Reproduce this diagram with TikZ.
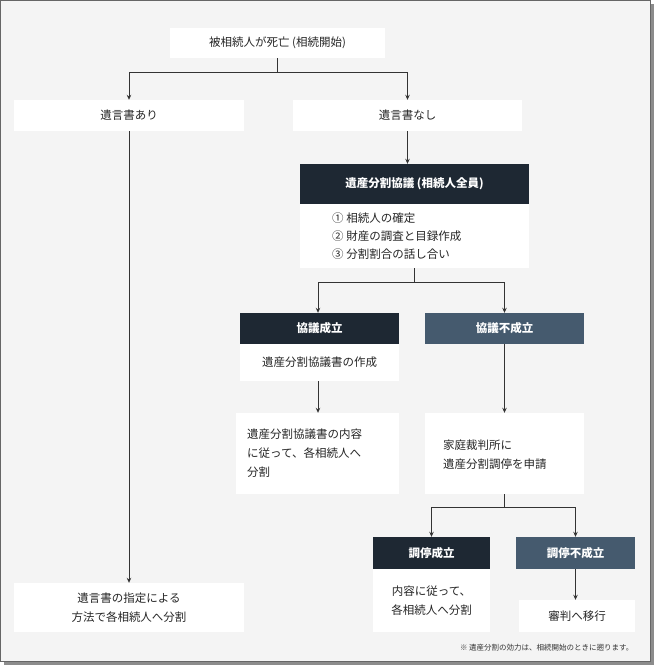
\documentclass[tikz,border=0pt]{standalone}
\usepackage{fontspec}
\setmainfont{Noto Sans CJK JP}
\usetikzlibrary{arrows.meta}
\definecolor{bg}{HTML}{F4F4F4}
\definecolor{dark}{HTML}{1E2833}
\definecolor{slate}{HTML}{455A6E}
\definecolor{ln}{HTML}{333333}
\begin{document}
\begin{tikzpicture}[x=1pt,y=-1pt,
  wbox/.style={fill=white,draw=none,inner sep=0pt,font=\fontsize{11.5}{19}\selectfont,text=black!85},
  dbox/.style={fill=dark,draw=none,text=white,font=\fontsize{11.5}{14}\selectfont\bfseries},
  sbox/.style={fill=slate,draw=none,text=white,font=\fontsize{11.5}{14}\selectfont\bfseries},
  arr/.style={draw=ln,line width=0.9pt,-{Stealth[length=5pt,width=4.5pt]}},
  ln/.style={draw=ln,line width=0.9pt}]
\useasboundingbox (0,0) rectangle (654,665);
\fill[black!45] (4,4) rectangle (654,665);
\fill[bg,draw=black!60,line width=0.8pt] (0.5,0.5) rectangle (650,661);
% boxes
\node[wbox,minimum width=215,minimum height=30] (top) at (277.5,43) {被相続人が死亡 (相続開始)};
\node[wbox,minimum width=230,minimum height=31] (yes) at (129,115.5) {遺言書あり};
\node[wbox,minimum width=229,minimum height=31] (no) at (407.5,115.5) {遺言書なし};
\node[dbox,minimum width=229,minimum height=40] (kyo) at (414.5,184) {遺産分割協議 (相続人全員)};
\node[wbox,minimum width=229,minimum height=64] (kyob) at (414.5,236) {};
\node[wbox,anchor=west,align=left,font=\fontsize{11.5}{18}\selectfont] (kyot) at (332,236) {① 相続人の確定\\② 財産の調査と目録作成\\③ 分割割合の話し合い};
\node[dbox,minimum width=159,minimum height=31] (s1) at (319.5,328.5) {協議成立};
\node[wbox,minimum width=159,minimum height=37] (s1b) at (319.5,362.5) {遺産分割協議書の作成};
\node[wbox,minimum width=163,minimum height=81] (s2) at (317.5,453.5) {};
\node[wbox,anchor=west,align=left] (s2t) at (247,453.5) {遺産分割協議書の内容\\に従って、各相続人へ\\分割};
\node[sbox,minimum width=159,minimum height=31] (f1) at (504.5,328.5) {協議不成立};
\node[wbox,minimum width=159,minimum height=81] (f2) at (504.5,453.5) {};
\node[wbox,anchor=west,align=left] (f2t) at (443,455) {家庭裁判所に\\遺産分割調停を申請};
\node[dbox,minimum width=117,minimum height=32] (c1) at (431.5,553) {調停成立};
\node[wbox,minimum width=117,minimum height=63,align=center] (c1b) at (431.5,600.5) {内容に従って、\\各相続人へ分割};
\node[sbox,minimum width=119,minimum height=32] (c2) at (575.5,553) {調停不成立};
\node[wbox,minimum width=116,minimum height=32] (c3) at (577,616) {審判へ移行};
\node[wbox,minimum width=230,minimum height=49,align=center] (w) at (129,607.5) {遺言書の指定による\\方法で各相続人へ分割};
\node[anchor=east,font=\fontsize{7.5}{9}\selectfont,text=black!80] (note) at (637,648) {※ 遺産分割の効力は、相続開始のときに遡ります。};
% connectors
\coordinate (j1) at (277.5,72);
\draw[ln] (top.south) -- (j1);
\draw[arr] (j1) -| (yes.north);
\draw[arr] (j1) -| (no.north);
\draw[arr] (no.south) -- (kyo.north-|no.south);
\coordinate (j2) at (414.5,282);
\draw[ln] (kyob.south) -- (j2);
\draw[arr] (j2) -| ([xshift=-1.5]s1.north);
\draw[arr] (j2) -| (f1.north);
\draw[arr] ([xshift=-1.5]s1b.south) -- ([xshift=0.5]s2.north);
\draw[arr] (f1.south) -- (f2.north);
\coordinate (j3) at (504.5,507);
\draw[ln] (f2.south) -- (j3);
\draw[arr] (j3) -| (c1.north);
\draw[arr] (j3) -| (c2.north);
\draw[arr] (c2.south) -- (c3.north-|c2.south);
\draw[arr] (yes.south) -- (w.north);
\end{tikzpicture}
\end{document}
